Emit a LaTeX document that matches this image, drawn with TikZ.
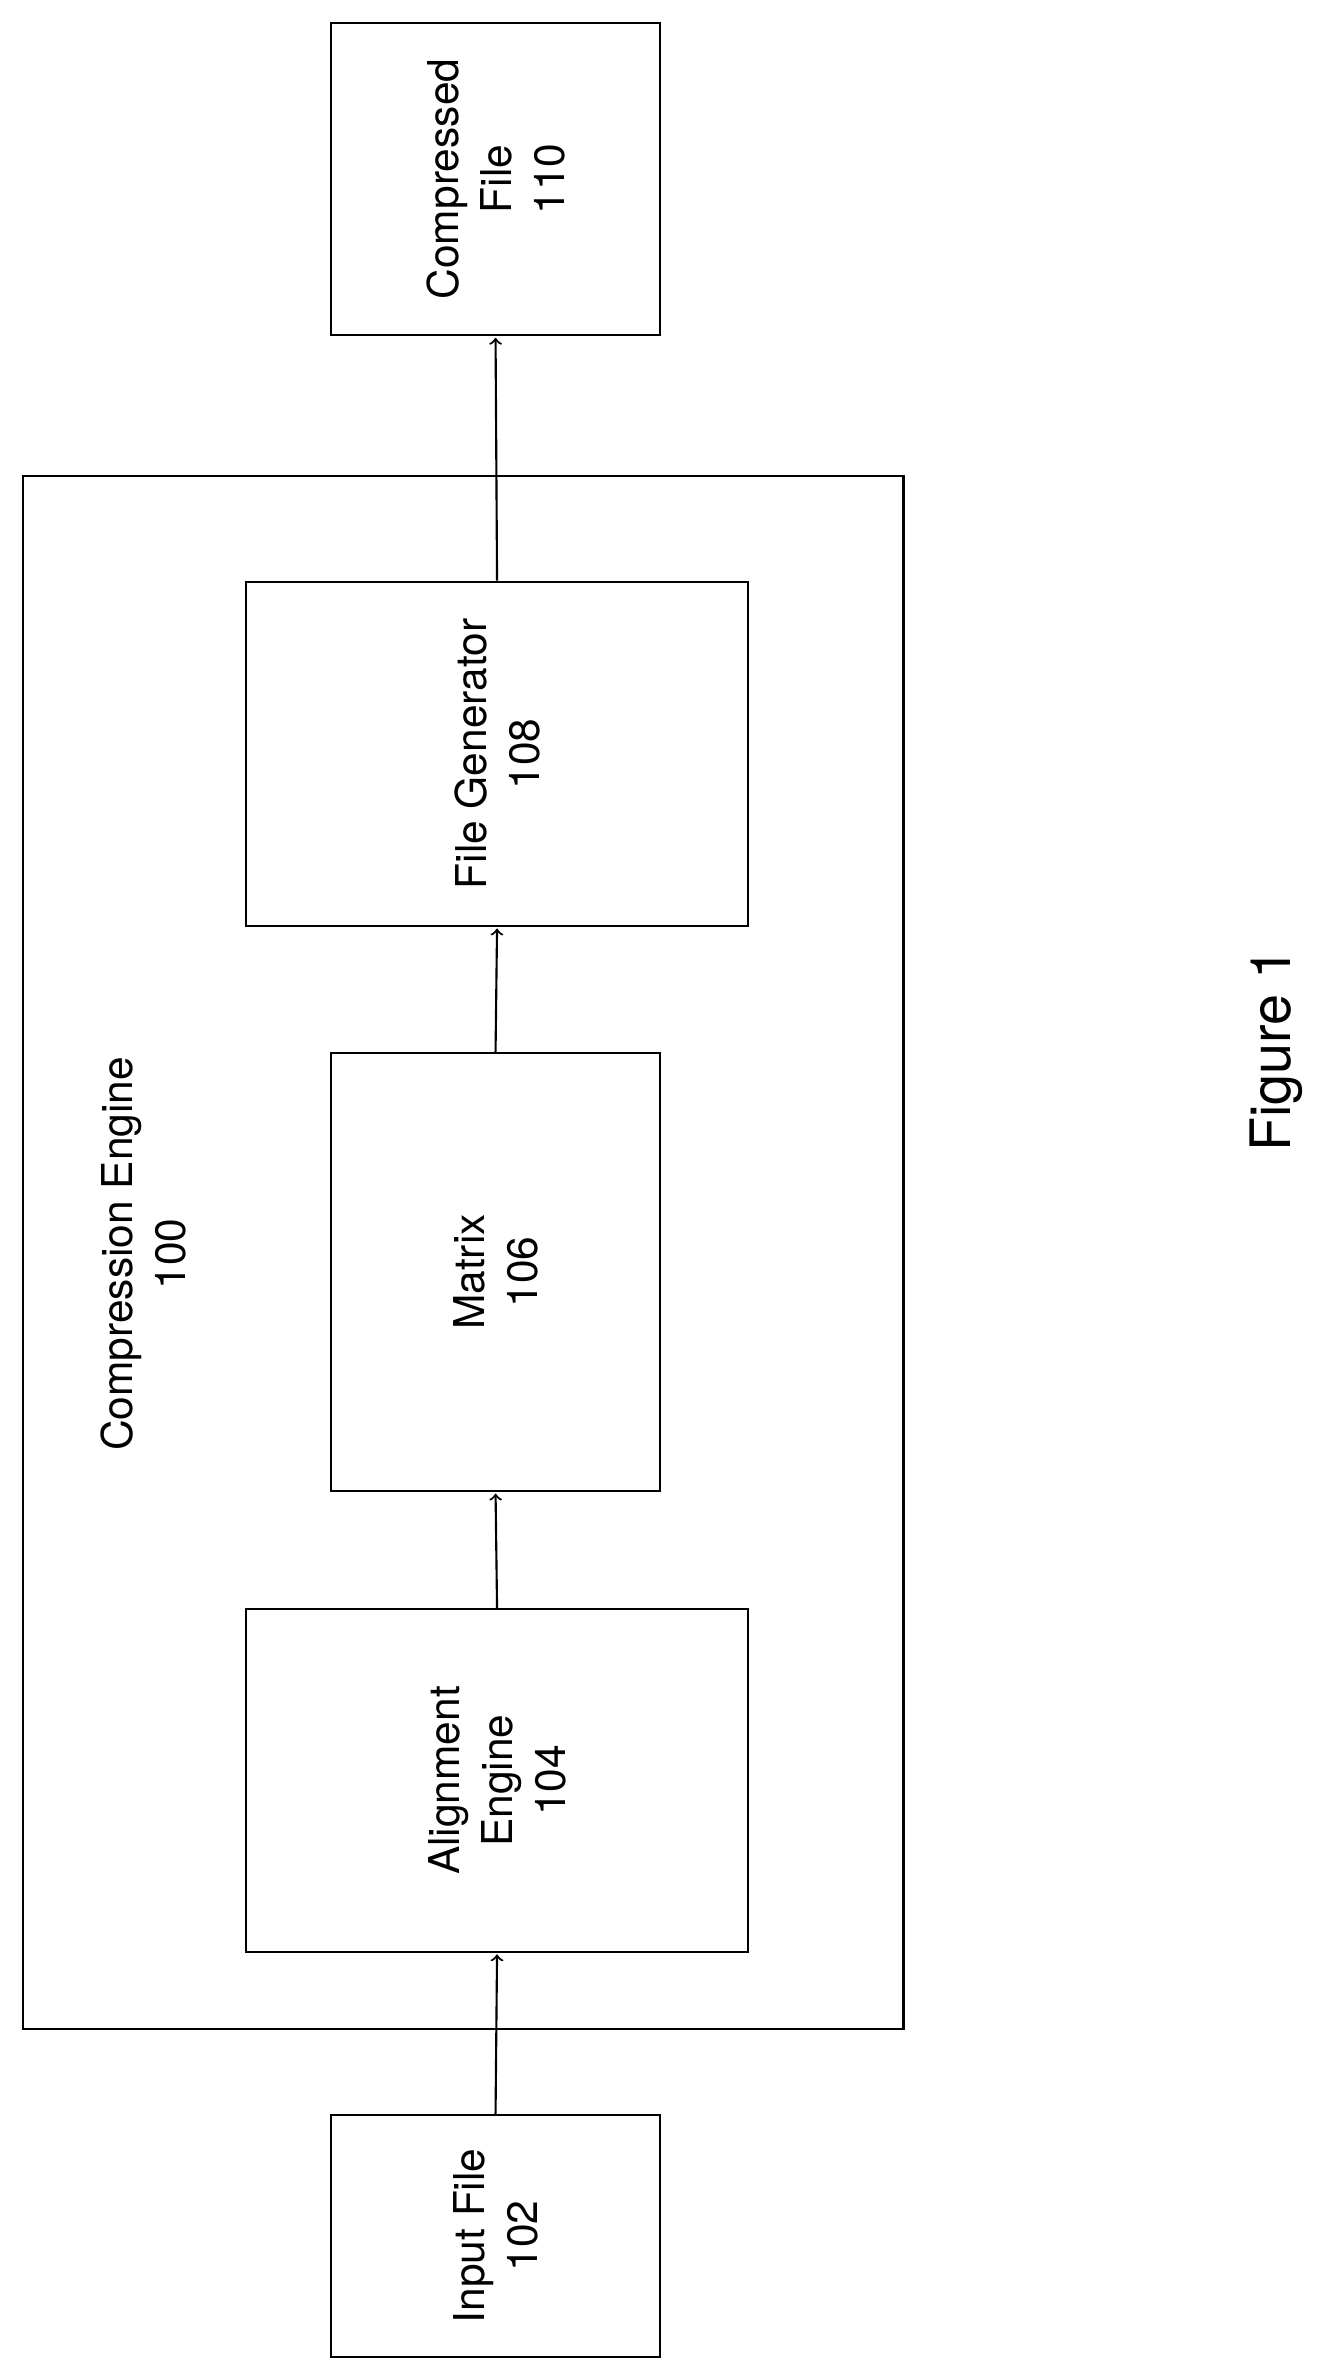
\documentclass[tikz,border=0pt]{standalone}
\usepackage{fontspec}
\setmainfont{TeX Gyre Heros}
\usetikzlibrary{positioning}
\usetikzlibrary{arrows}
\tikzstyle{arrow} = [thick,->,>=to,shorten >=0.5pt]
\tikzstyle{block} = [draw,thick,rotate=90,align=center,font=\fontsize{16}{20}\selectfont]

\begin{document}
\begin{tikzpicture}[x=0.02cm,y=-0.02cm]
	\useasboundingbox (0,0) rectangle (886,1574);

	%Nodes
	\node [block,minimum width=1028*0.02cm,minimum height=583*0.02cm] (engine) at (306.5,829) {};
	\node [rotate=90,align=center,font=\fontsize{16}{20}\selectfont] (enginelabel) at (95,830) {Compression Engine\\100};
	\node [block,minimum width=160*0.02cm,minimum height=218*0.02cm] (input) at (328,1480) {Input File\\102};
	\node [block,minimum width=227*0.02cm,minimum height=332*0.02cm] (align) at (329,1178.5) {Alignment\\Engine\\104};
	\node [block,minimum width=290*0.02cm,minimum height=218*0.02cm] (matrix) at (328,842) {Matrix\\106};
	\node [block,minimum width=228*0.02cm,minimum height=332*0.02cm] (filegen) at (329,499) {File Generator\\108};
	\node [block,minimum width=207*0.02cm,minimum height=218*0.02cm] (compressed) at (328,118.5) {Compressed\\File\\110};
	\node [rotate=90,font=\fontsize{21}{25}\selectfont] (figlabel) at (845,695) {Figure 1};

	%Lines
	\draw[arrow] (input.east) -- (align.west);
	\draw[arrow] (align.east) -- (matrix.west);
	\draw[arrow] (matrix.east) -- (filegen.west);
	\draw[arrow] (filegen.east) -- (compressed.west);
\end{tikzpicture}
\end{document}
